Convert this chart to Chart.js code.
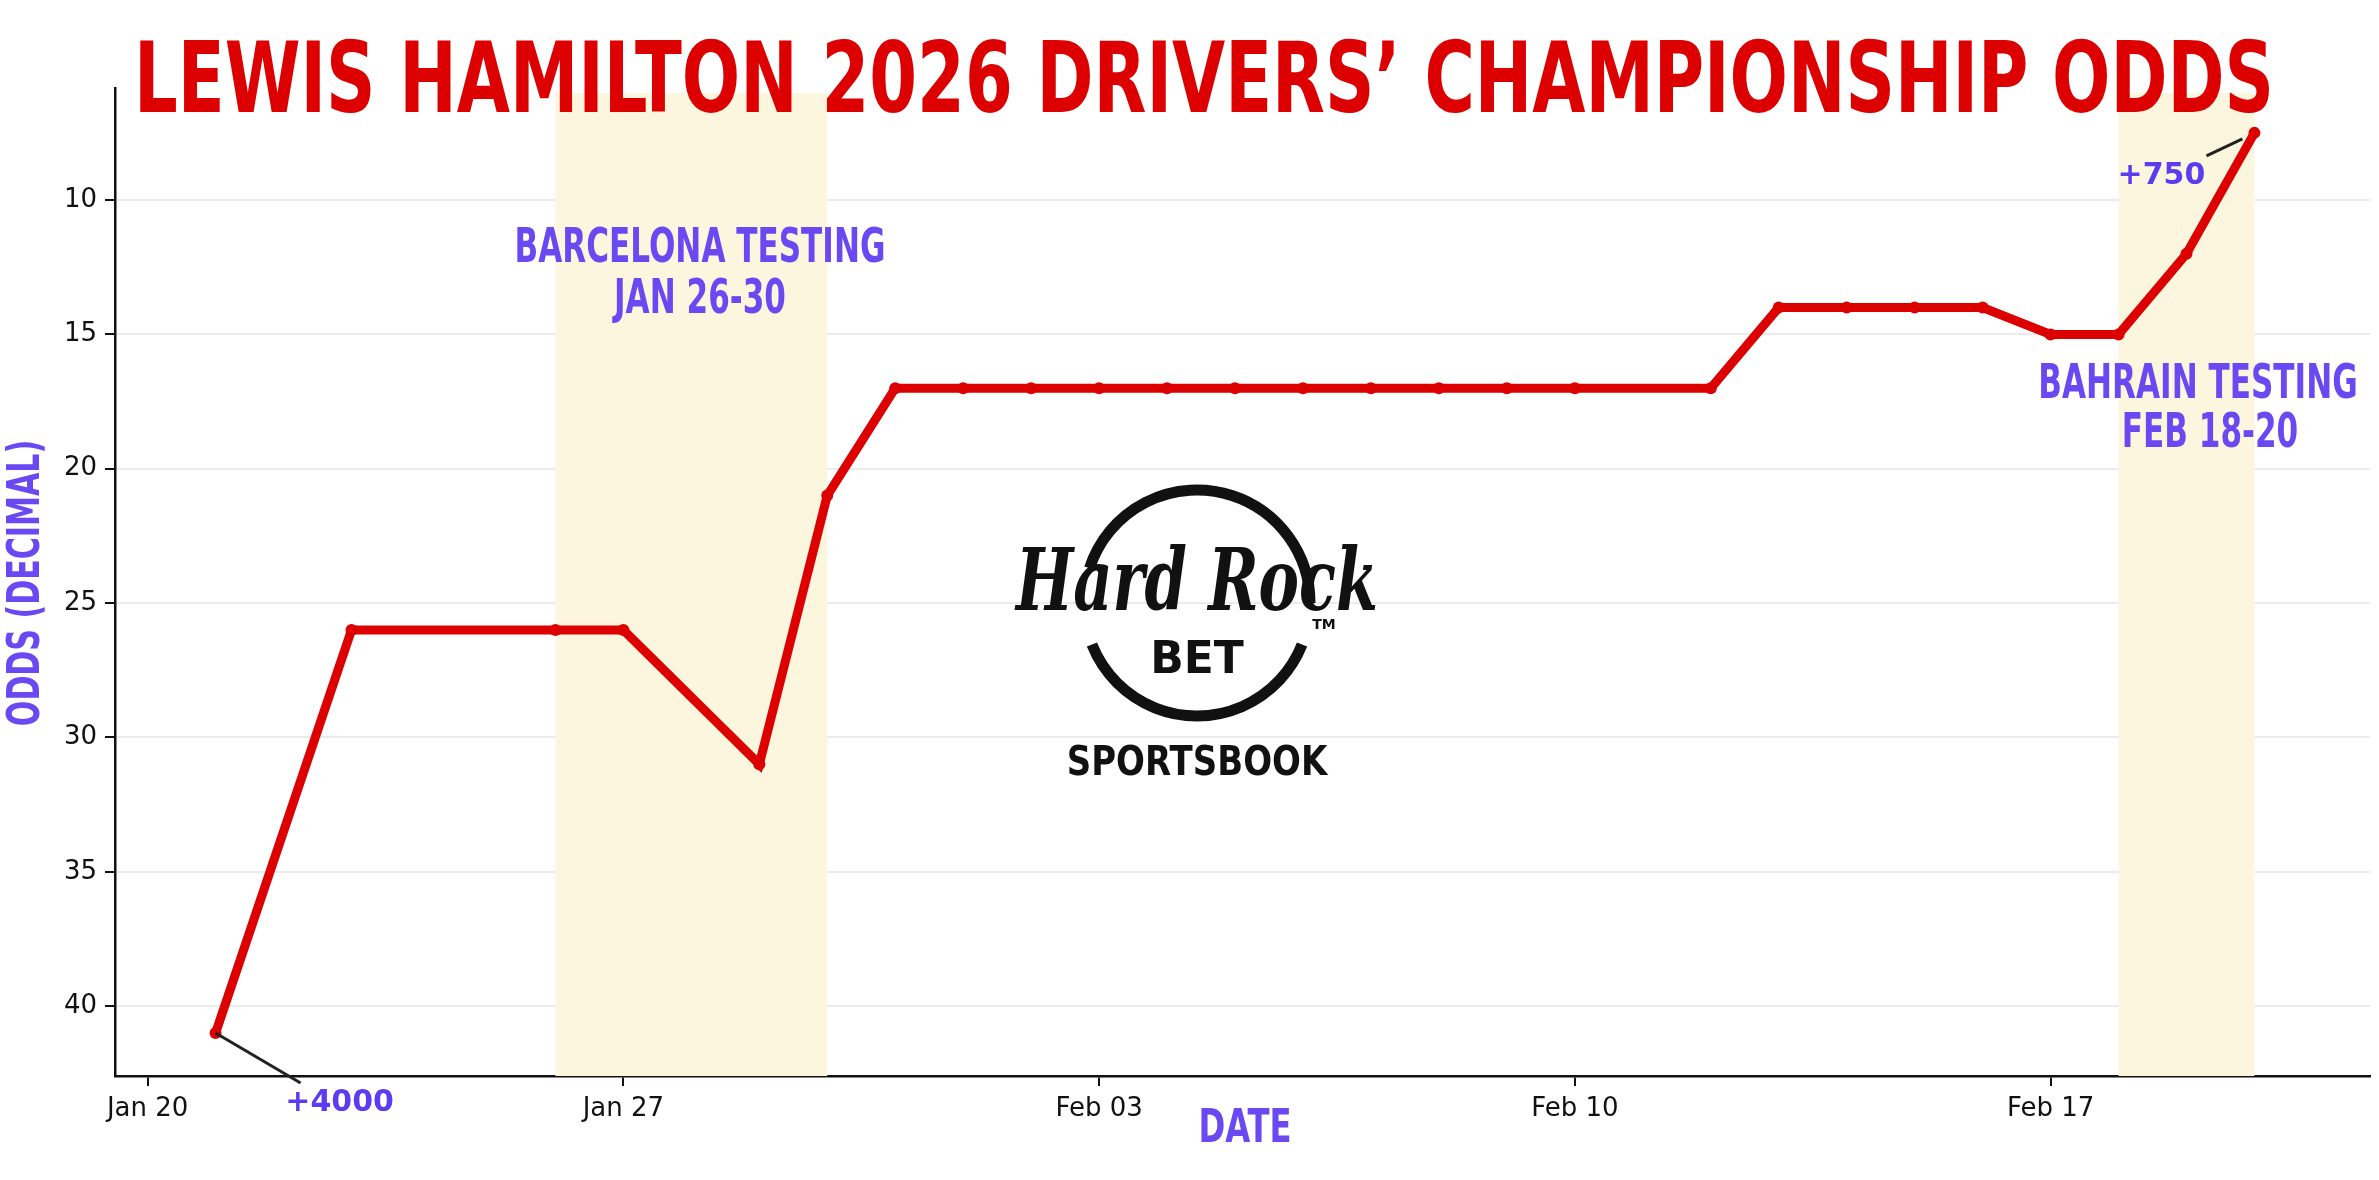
<!DOCTYPE html>
<html><head><meta charset="utf-8">
<script src="https://cdn.jsdelivr.net/npm/chart.js@4.4.1/dist/chart.umd.min.js"></script>
<style>html,body{margin:0;padding:0;background:#fff}#wrap{width:2379px;height:1180px}</style>
</head><body><div id="wrap"><canvas id="c" width="2379" height="1180"></canvas></div>
<script>
// days since Jan 20, 2026
const dayOffsets = [1,3,6,7,9,10,11,12,13,14,15,16,17,18,19,20,21,23,24,25,26,27,28,29,30,31];
const oddsValues = [41,26,26,26,31,21,17,17,17,17,17,17,17,17,17,17,17,17,14,14,14,14,15,15,12,7.5];
const tickDays = [0,7,14,21,28];
const tickLabels = ['Jan 20','Jan 27','Feb 03','Feb 10','Feb 17'];
const yTicks = [10,15,20,25,30,35,40];
const bandStarts = [6,29];
const bandEnds = [10,31];
const bandLabels = [['BARCELONA TESTING','JAN 26-30'],['BAHRAIN TESTING','FEB 18-20']];

const PURPLE = '#6a48f2';
const COND = "'DejaVu Sans Condensed','Liberation Sans Narrow',sans-serif";

function condText(ctx, text, x, y, size, color, sx, align){
  ctx.save();
  ctx.font = 'bold '+size+'px '+COND;
  ctx.fillStyle = color; ctx.textBaseline='middle'; ctx.textAlign = align||'center';
  ctx.translate(x,y); ctx.scale(sx,1.0);
  ctx.fillText(text,0,0);
  ctx.restore();
}

const decor = {
  id:'decor',
  beforeDatasetsDraw(chart){
    const {ctx, chartArea:a, scales:{x}} = chart;
    ctx.save();
    ctx.fillStyle = '#fdf6de';
    for(let i=0;i<bandStarts.length;i++){
      const x0=x.getPixelForValue(bandStarts[i]), x1=x.getPixelForValue(bandEnds[i]);
      ctx.fillRect(x0, a.top+5, x1-x0, a.bottom-a.top-5);
    }
    const cx=1197, cy=603, r=113;
    ctx.strokeStyle='#111'; ctx.lineWidth=11;
    ctx.beginPath(); ctx.arc(cx,cy,r,Math.PI*1.1,Math.PI*2.0); ctx.stroke();
    ctx.beginPath(); ctx.arc(cx,cy,r,Math.PI*0.12,Math.PI*0.88); ctx.stroke();
    ctx.fillStyle='#111';
    ctx.save(); ctx.font="italic bold 82px 'DejaVu Serif',serif"; ctx.textAlign='center'; ctx.textBaseline='alphabetic';
    ctx.translate(cx,610); ctx.scale(0.74,1.05); ctx.fillText('Hard Rock',0,0); ctx.restore();
    ctx.font="bold 44px 'DejaVu Sans',sans-serif"; ctx.textAlign='center'; ctx.textBaseline='middle';
    ctx.fillText('BET',cx,662);
    ctx.font="bold 14px 'DejaVu Sans',sans-serif"; ctx.fillText('TM',cx+127,625);
    ctx.save(); ctx.font="bold 40px 'DejaVu Sans',sans-serif"; ctx.translate(cx,765); ctx.scale(0.85,1); ctx.fillText('SPORTSBOOK',0,0); ctx.restore();
    ctx.restore();
  },
  afterDatasetsDraw(chart){
    const {ctx, scales:{x,y}} = chart;
    ctx.save();
    condText(ctx,bandLabels[0][0],700,250,48,PURPLE,0.72);
    condText(ctx,bandLabels[0][1],700,301,48,PURPLE,0.72);
    condText(ctx,bandLabels[1][0],2198,386,48,PURPLE,0.72);
    condText(ctx,bandLabels[1][1],2210,435,48,PURPLE,0.72);
    const p0x=x.getPixelForValue(dayOffsets[0]), p0y=y.getPixelForValue(oddsValues[0]);
    const n=dayOffsets.length-1;
    const p1x=x.getPixelForValue(dayOffsets[n]), p1y=y.getPixelForValue(oddsValues[n]);
    ctx.strokeStyle='#222'; ctx.lineWidth=3;
    ctx.beginPath(); ctx.moveTo(p0x,p0y); ctx.lineTo(p0x+85,p0y+50); ctx.stroke();
    ctx.beginPath(); ctx.moveTo(p1x-12,p1y+6); ctx.lineTo(p1x-48,p1y+23); ctx.stroke();
    ctx.fillStyle='#5b3cf0'; ctx.font="bold 30px 'DejaVu Sans',sans-serif"; ctx.textAlign='center'; ctx.textBaseline='middle';
    ctx.fillText('+4000',p0x+124,p0y+70);
    ctx.fillText('+750',p1x-93,p1y+43);
    const title="LEWIS HAMILTON 2026 DRIVERS\u2019 CHAMPIONSHIP ODDS";
    ctx.font='bold 98px '+COND;
    const w=ctx.measureText(title).width;
    ctx.save(); ctx.fillStyle='#dd0000'; ctx.textAlign='left'; ctx.textBaseline='alphabetic';
    ctx.translate(134,112); ctx.scale(2140/w,1.0); ctx.fillText(title,0,0); ctx.restore();
    condText(ctx,'DATE',1245,1130,46,PURPLE,0.78);
    ctx.save(); ctx.translate(28,583); ctx.rotate(-Math.PI/2);
    condText(ctx,'ODDS (DECIMAL)',0,0,44,PURPLE,0.76);
    ctx.restore();
    ctx.restore();
  }
};

new Chart(document.getElementById('c'),{
  type:'line',
  data:{datasets:[{data:dayOffsets.map((d,i)=>({x:d,y:oddsValues[i]})),
    borderColor:'#dd0000',backgroundColor:'#dd0000',borderWidth:9,pointRadius:6,pointBackgroundColor:'#dd0000',pointBorderWidth:0,tension:0}]},
  options:{
    responsive:false,animation:false,devicePixelRatio:1,
    layout:{padding:{top:88,right:9,left:0,bottom:0}},
    plugins:{legend:{display:false},tooltip:{enabled:false}},
    scales:{
      x:{type:'linear',min:-0.48,max:32.7,
        afterBuildTicks(s){s.ticks=tickDays.map(v=>({value:v}));},
        afterFit(s){s.height=104;},
        ticks:{callback:(v)=>tickLabels[tickDays.indexOf(v)]||'',font:{family:'DejaVu Sans',size:26},color:'#111',padding:8,maxRotation:0},
        grid:{display:true,drawOnChartArea:false,drawTicks:true,tickLength:10,color:'#111',lineWidth:2},
        border:{display:true,color:'#111',width:2.5}},
      y:{reverse:true,min:5.83,max:42.6,
        afterBuildTicks(s){s.ticks=yTicks.map(v=>({value:v}));},
        afterFit(s){s.width=115;},
        ticks:{font:{family:'DejaVu Sans',size:26},color:'#111',padding:8},
        grid:{color:'#ebebeb',lineWidth:2,tickColor:'#111',tickLength:10},
        border:{display:true,color:'#111',width:2.5}}
    }
  },
  plugins:[decor]
});
</script></body></html>
